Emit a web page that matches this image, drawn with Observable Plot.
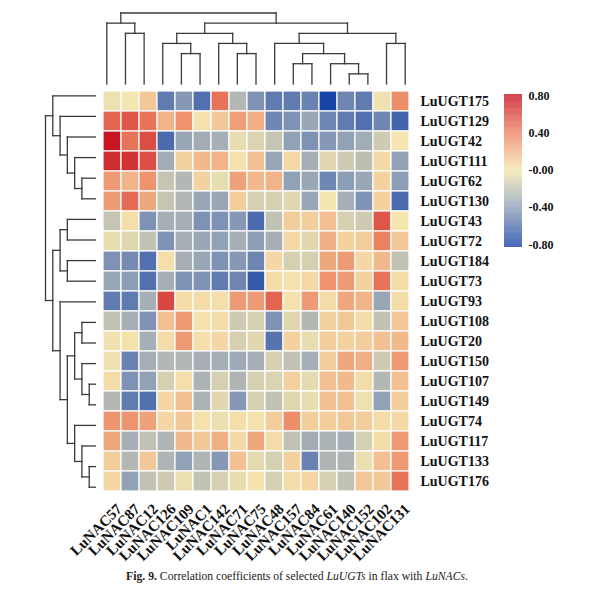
<!DOCTYPE html>
<html>
<head>
<meta charset="utf-8">
<script src="https://cdn.jsdelivr.net/npm/d3@7"></script>
<script src="https://cdn.jsdelivr.net/npm/@observablehq/plot@0.6"></script>
<style>
  html, body { margin: 0; padding: 0; background: #fff; }
  #wrap { position: relative; width: 594px; height: 594px; background: #fff; overflow: hidden; }
  #wrap > div.p { position: absolute; }
  #caption { position: absolute; left: 0; width: 594px; top: 570px; text-align: center;
    font-family: "Liberation Serif", "DejaVu Serif", serif; font-size: 11.7px; color: #222; }
</style>
</head>
<body>
<div id="wrap">
  <div class="p" id="heat" style="left:0;top:0"></div>
  <div class="p" id="dtop" style="left:0;top:0"></div>
  <div class="p" id="dleft" style="left:0;top:0"></div>
  <div class="p" id="legend" style="left:504px;top:84px"></div>
  <div id="caption"><b>Fig. 9.</b> Correlation coefficients of selected <i>LuUGTs</i> in flax with <i>LuNACs</i>.</div>
</div>
<script>
// ---------- data ----------
const cols = ["LuNAC57","LuNAC87","LuNAC12","LuNAC126","LuNAC109","LuNAC1","LuNAC142","LuNAC71","LuNAC75",
              "LuNAC48","LuNAC157","LuNAC84","LuNAC61","LuNAC140","LuNAC152","LuNAC102","LuNAC131"];
const rows = ["LuUGT175","LuUGT129","LuUGT42","LuUGT111","LuUGT62","LuUGT130","LuUGT43","LuUGT72","LuUGT184",
              "LuUGT73","LuUGT93","LuUGT108","LuUGT20","LuUGT150","LuUGT107","LuUGT149","LuUGT74","LuUGT117",
              "LuUGT133","LuUGT176"];

const ugt175 = [-0.03, 0.00, 0.12, -0.55, -0.42, -0.60, 0.45, -0.25, -0.45, -0.55, -0.55, -0.52, -0.80, -0.50, -0.55, -0.02, 0.35];
const ugt129 = [0.50, 0.55, 0.45, 0.20, 0.33, 0.02, 0.12, 0.28, 0.22, -0.50, -0.45, -0.35, -0.50, -0.55, -0.60, -0.50, -0.65];
const ugt42  = [0.78, 0.45, 0.58, -0.62, -0.35, -0.32, -0.30, -0.05, -0.10, -0.18, -0.38, -0.45, -0.42, -0.38, -0.32, -0.15, 0.00];
const ugt111 = [0.70, 0.68, 0.58, -0.32, 0.08, 0.18, 0.20, 0.02, 0.15, -0.35, 0.05, -0.30, -0.08, -0.15, -0.22, 0.05, -0.37];
const ugt62  = [0.30, 0.20, 0.33, -0.18, -0.25, 0.08, -0.05, 0.27, 0.18, 0.20, -0.38, -0.35, -0.50, -0.40, -0.35, 0.08, -0.40];
const ugt130 = [0.30, 0.48, 0.25, -0.18, -0.25, -0.35, -0.35, 0.10, -0.12, -0.12, -0.08, -0.35, 0.00, -0.30, -0.45, 0.08, -0.62];
const ugt43  = [-0.18, 0.03, -0.45, -0.30, -0.30, -0.45, -0.45, -0.42, -0.62, -0.20, 0.10, 0.10, 0.15, -0.12, -0.15, 0.55, 0.00];
const ugt72  = [-0.05, -0.08, -0.20, -0.45, -0.30, -0.35, -0.38, -0.30, -0.40, -0.30, 0.05, -0.08, 0.22, 0.08, 0.10, 0.40, 0.12];
const ugt184 = [-0.45, -0.48, -0.60, 0.03, -0.30, -0.35, -0.45, -0.42, -0.50, 0.06, -0.12, -0.12, 0.25, 0.30, 0.06, 0.18, -0.20];
const ugt73  = [-0.35, -0.40, -0.60, -0.30, -0.45, -0.45, -0.55, -0.50, -0.70, 0.04, 0.02, 0.05, 0.33, 0.30, 0.08, 0.45, 0.04];
const ugt93  = [-0.55, -0.55, -0.30, 0.60, 0.04, 0.04, 0.03, 0.30, 0.30, 0.50, 0.02, 0.30, 0.04, 0.25, 0.20, -0.35, 0.04];
const ugt108 = [-0.20, -0.30, -0.45, 0.15, 0.30, 0.02, 0.04, -0.15, -0.12, -0.45, -0.08, -0.25, 0.08, 0.12, 0.04, -0.20, 0.12];
const ugt20  = [-0.02, 0.02, -0.30, 0.04, 0.30, 0.03, 0.06, -0.12, -0.08, -0.58, 0.08, -0.05, 0.10, 0.08, 0.10, 0.15, 0.18];
const ugt150 = [-0.02, -0.52, -0.30, -0.25, -0.25, -0.30, -0.30, -0.33, -0.30, -0.12, -0.20, -0.30, 0.10, 0.25, 0.22, -0.15, 0.30];
const ugt107 = [0.04, -0.45, -0.38, -0.12, 0.03, -0.28, -0.12, -0.27, -0.12, -0.10, 0.08, -0.06, 0.15, 0.18, 0.04, -0.25, 0.15];
const ugt149 = [-0.25, -0.55, -0.60, 0.06, 0.15, -0.28, -0.08, -0.42, -0.12, -0.20, -0.08, -0.05, 0.15, 0.15, -0.03, -0.38, 0.10];
const ugt74  = [0.32, 0.32, 0.27, 0.06, 0.12, 0.02, -0.04, 0.03, 0.02, 0.10, 0.35, 0.10, 0.10, 0.12, 0.10, 0.04, 0.05];
const ugt117 = [0.25, -0.30, -0.20, -0.27, 0.18, 0.12, 0.22, 0.05, 0.25, 0.04, -0.20, -0.32, -0.28, -0.30, -0.12, 0.04, 0.30];
const ugt133 = [0.10, -0.25, 0.12, -0.27, -0.38, -0.27, -0.42, 0.15, -0.06, -0.12, 0.08, -0.52, -0.27, -0.27, -0.04, 0.15, 0.30];
const ugt176 = [0.06, -0.38, -0.20, -0.15, -0.04, -0.20, -0.12, -0.05, 0.01, -0.12, 0.04, 0.06, -0.12, -0.20, 0.12, 0.12, 0.45];

const rowValues = [ugt175, ugt129, ugt42, ugt111, ugt62, ugt130, ugt43, ugt72, ugt184, ugt73,
                   ugt93, ugt108, ugt20, ugt150, ugt107, ugt149, ugt74, ugt117, ugt133, ugt176];

// dendrograms: [mergeHeight, left, right]; leaves are column/row indices
const colTree = [7, [6, 0, [5, 1, 2]],
                    [6, [5, [4, 3, [3, 4, 5]], [4, 6, [3, 7, 8]]],
                        [5, [4, 9, [3, [2, 10, 11], [2, 12, [1, 13, 14]]]], [4, 15, 16]]]];
const rowTree = [7, [6, 0, [5, 1, [4, 2, [3, 3, [2, 4, 5]]]]],
                    [6, [5, [4, 6, 7], [4, 8, 9]],
                        [5, 10, [4, [3, [2, 11, 12], [2, 13, [1, 14, 15]]], [3, 16, [2, 17, [1, 18, 19]]]]]]];

const legendTicks = [0.8, 0.4, 0, -0.4, -0.8];
const colorDomain = [-0.83, -0.4, 0, 0.4, 0.82];
const colorRange = ["#0f3ca6", "#8c9db6", "#f5e6b0", "#ec8160", "#c40a1c"];

// ---------- build tables ----------
const cells = [];
rowValues.forEach((vals, r) => vals.forEach((v, c) => cells.push({row: rows[r], col: cols[c], value: v})));

function treeSegments(tree) {
  const segs = [];
  function walk(node) {
    if (typeof node === "number") return {pos: node + 0.5, h: 0};
    const [h, a, b] = node;
    const A = walk(a), B = walk(b);
    segs.push({p1: A.pos, h1: A.h, p2: A.pos, h2: h});
    segs.push({p1: B.pos, h1: B.h, p2: B.pos, h2: h});
    segs.push({p1: A.pos, h1: h, p2: B.pos, h2: h});
    return {pos: (A.pos + B.pos) / 2, h};
  }
  walk(tree);
  return segs;
}

const W = 594, H = 570, ML = 97, MR = 180, MT = 85, MB = 73;
const serif = "Liberation Serif, Times New Roman, serif";
const colorOpts = {type: "linear", domain: colorDomain, range: colorRange, interpolate: "rgb"};
const lo = colorDomain[0], hi = colorDomain[colorDomain.length - 1];

// ---------- heatmap ----------
const heat = Plot.plot({
  width: W, height: H, marginLeft: ML, marginRight: MR, marginTop: MT, marginBottom: MB,
  style: {fontFamily: serif, fontWeight: "bold", background: "transparent", color: "#111"},
  x: {type: "band", domain: cols, padding: 0, axis: null, label: null},
  y: {type: "band", domain: rows, padding: 0, axis: null, label: null},
  color: colorOpts,
  marks: [
    Plot.cell(cells, {x: "col", y: "row", fill: "value", stroke: "white", strokeWidth: 1.2}),
    Plot.axisY({anchor: "right", label: null, tickSize: 0, tickPadding: 6, fontSize: 14, fontWeight: "bold", fill: "#111"}),
    Plot.text(cols, {x: d => d, frameAnchor: "bottom", rotate: -45, textAnchor: "end", lineAnchor: "middle",
      dx: 7, dy: 9, fontSize: 15, fontWeight: "bold", fill: "#111"})
  ]
});
document.getElementById("heat").appendChild(heat);

// ---------- top dendrogram ----------
const dtop = Plot.plot({
  width: W, height: MT, marginLeft: ML, marginRight: MR, marginTop: 12.5, marginBottom: 1.5,
  style: {background: "transparent"},
  x: {type: "linear", domain: [0, cols.length], axis: null},
  y: {type: "linear", domain: [0, 7], axis: null},
  marks: [
    Plot.link(treeSegments(colTree), {x1: "p1", y1: "h1", x2: "p2", y2: "h2", stroke: "#3a3a3a", strokeWidth: 1.3, strokeLinecap: "square"})
  ]
});
document.getElementById("dtop").appendChild(dtop);

// ---------- left dendrogram ----------
const dleft = Plot.plot({
  width: ML - 1, height: H, marginLeft: 45, marginRight: 0, marginTop: MT, marginBottom: MB,
  style: {background: "transparent"},
  x: {type: "linear", domain: [7, 0], axis: null},
  y: {type: "linear", domain: [rows.length, 0], axis: null},
  marks: [
    Plot.link(treeSegments(rowTree), {x1: "h1", y1: "p1", x2: "h2", y2: "p2", stroke: "#3a3a3a", strokeWidth: 1.3, strokeLinecap: "square"})
  ]
});
document.getElementById("dleft").appendChild(dleft);

// ---------- legend ----------
const stops = d3.range(lo, hi, 0.005);
const legend = Plot.plot({
  width: 90, height: 173, marginLeft: 0, marginRight: 72, marginTop: 10, marginBottom: 10,
  style: {fontFamily: serif, fontWeight: "bold", background: "transparent", color: "#111"},
  x: {type: "linear", domain: [0, 1], axis: null},
  y: {type: "linear", domain: [lo, hi], axis: null},
  color: colorOpts,
  marks: [
    Plot.rect(stops, {x1: 0, x2: 1, y1: d => d, y2: d => Math.min(d + 0.0055, hi), fill: d => d + 0.0025}),
    Plot.axisY(legendTicks, {anchor: "right", label: null, tickSize: 0, tickPadding: 6, fontSize: 12, fontWeight: "bold", fill: "#111",
      tickFormat: d => d === 0 ? "-0.00" : d.toFixed(2)})
  ]
});
document.getElementById("legend").appendChild(legend);
</script>
</body>
</html>
